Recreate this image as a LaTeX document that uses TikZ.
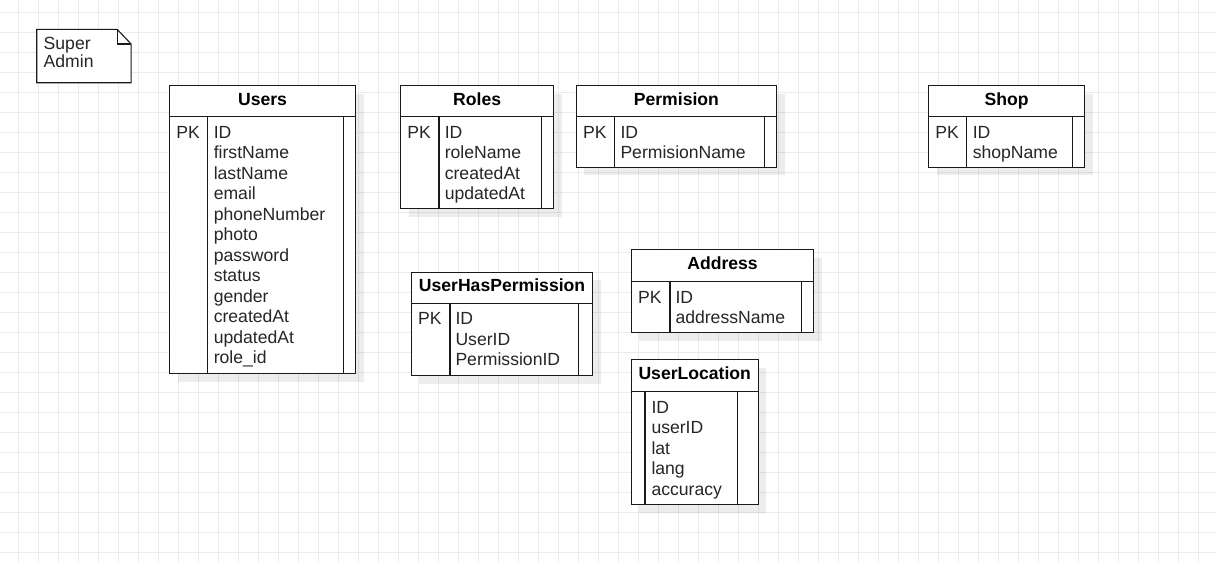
\documentclass[tikz,border=0pt]{standalone}
\usepackage{fontspec}
\setmainfont{Liberation Sans}
\usepackage{tikz}
\usetikzlibrary{positioning,shadows}
\newcommand{\fsz}{\fontsize{17.6pt}{20.5pt}\selectfont}
\tikzset{
  gridline/.style={draw=black!8, line width=1pt},
  rule/.style={draw=black!90, line width=1.1pt},
  tbl/.style={rule, fill=white, anchor=north west, inner sep=0pt,
    general shadow={shadow xshift=8pt, shadow yshift=-8pt, fill=black, draw=none, fill opacity=0.07}},
  title/.style={font=\bfseries\fsz, anchor=base, inner sep=0pt},
  key/.style={font=\fsz, text=black!85, anchor=north west, inner sep=0pt},
  field/.style={key, align=left},
  note/.style={anchor=north west, inner sep=0pt, minimum width=94pt, minimum height=53pt}
}

\begin{document}
\begin{tikzpicture}[x=1pt, y=1pt]
  \useasboundingbox (0,0) rectangle (1217,-562);
  \fill[white] (0,0) rectangle (1217,-562);
  \foreach \i in {0,...,59} \draw[gridline] (18.5+20*\i,0) -- ++(0,-562);
  \foreach \j in {0,...,27} \draw[gridline] (0,-12.5-20*\j) -- ++(1217,0);

  % note
  \node[note] (admin) at (36.7,-29.3) {};
  \draw[rule, fill=white] (admin.north west) -- ([xshift=-14pt]admin.north east)
    -- ([yshift=-14.7pt]admin.north east) -- (admin.south east) -- (admin.south west) -- cycle;
  \draw[rule] ([xshift=-14pt]admin.north east) -- ([shift={(-14,-14.7)}]admin.north east)
    -- ([yshift=-14.7pt]admin.north east);
  \node[field, font=\fontsize{17.6pt}{18.3pt}\selectfont] (admin-t) at ([shift={(6.8,-7.6)}]admin.north west) {Super\\Admin};

  % Users
  \node[tbl, minimum width=186pt, minimum height=288.3pt] (users) at (169,-85) {};
  \node[title] (users-t) at ([yshift=-20pt]users.north) {Users};
  \draw[rule] ([yshift=-31.7pt]users.north west) -- ([yshift=-31.7pt]users.north east);
  \draw[rule] ([shift={(38.7,-31.7)}]users.north west) -- ([xshift=38.7pt]users.south west);
  \draw[rule] ([shift={(-12.3,-31.7)}]users.north east) -- ([xshift=-12.3pt]users.south east);
  \node[key] (users-k) at ([shift={(7.2,-40.7)}]users.north west) {PK};
  \node[field] (users-f) at ([shift={(44.6,-40.7)}]users.north west)
    {ID\\firstName\\lastName\\email\\phoneNumber\\photo\\password\\status\\gender\\createdAt\\updatedAt\\role\_id};

  % Roles
  \node[tbl, minimum width=153.3pt, minimum height=123.3pt] (roles) at (400,-85) {};
  \node[title] (roles-t) at ([yshift=-20pt]roles.north) {Roles};
  \draw[rule] ([yshift=-31.7pt]roles.north west) -- ([yshift=-31.7pt]roles.north east);
  \draw[rule] ([shift={(39,-31.7)}]roles.north west) -- ([xshift=39pt]roles.south west);
  \draw[rule] ([shift={(-12.6,-31.7)}]roles.north east) -- ([xshift=-12.6pt]roles.south east);
  \node[key] (roles-k) at ([shift={(7.2,-40.7)}]roles.north west) {PK};
  \node[field] (roles-f) at ([shift={(44.6,-40.7)}]roles.north west) {ID\\roleName\\createdAt\\updatedAt};

  % Permision
  \node[tbl, minimum width=200.3pt, minimum height=81.7pt] (perm) at (575.7,-85) {};
  \node[title] (perm-t) at ([yshift=-20pt]perm.north) {Permision};
  \draw[rule] ([yshift=-31.7pt]perm.north west) -- ([yshift=-31.7pt]perm.north east);
  \draw[rule] ([shift={(38.6,-31.7)}]perm.north west) -- ([xshift=38.6pt]perm.south west);
  \draw[rule] ([shift={(-12.7,-31.7)}]perm.north east) -- ([xshift=-12.7pt]perm.south east);
  \node[key] (perm-k) at ([shift={(7.2,-40.7)}]perm.north west) {PK};
  \node[field] (perm-f) at ([shift={(44.6,-40.7)}]perm.north west) {ID\\PermisionName};

  % Shop
  \node[tbl, minimum width=156pt, minimum height=81.7pt] (shop) at (928,-85) {};
  \node[title] (shop-t) at ([yshift=-20pt]shop.north) {Shop};
  \draw[rule] ([yshift=-31.7pt]shop.north west) -- ([yshift=-31.7pt]shop.north east);
  \draw[rule] ([shift={(38.7,-31.7)}]shop.north west) -- ([xshift=38.7pt]shop.south west);
  \draw[rule] ([shift={(-12.3,-31.7)}]shop.north east) -- ([xshift=-12.3pt]shop.south east);
  \node[key] (shop-k) at ([shift={(7.2,-40.7)}]shop.north west) {PK};
  \node[field] (shop-f) at ([shift={(44.6,-40.7)}]shop.north west) {ID\\shopName};

  % UserHasPermission
  \node[tbl, minimum width=181.6pt, minimum height=103.3pt] (uhp) at (410.7,-271.7) {};
  \node[title] (uhp-t) at ([yshift=-20pt]uhp.north) {UserHasPermission};
  \draw[rule] ([yshift=-31.7pt]uhp.north west) -- ([yshift=-31.7pt]uhp.north east);
  \draw[rule] ([shift={(39.3,-31.7)}]uhp.north west) -- ([xshift=39.3pt]uhp.south west);
  \draw[rule] ([shift={(-14.6,-31.7)}]uhp.north east) -- ([xshift=-14.6pt]uhp.south east);
  \node[key] (uhp-k) at ([shift={(7.2,-40.7)}]uhp.north west) {PK};
  \node[field] (uhp-f) at ([shift={(44.6,-40.7)}]uhp.north west) {ID\\UserID\\PermissionID};

  % Address
  \node[tbl, minimum width=182.6pt, minimum height=82.7pt] (addr) at (630.7,-249.3) {};
  \node[title] (addr-t) at ([yshift=-20.4pt]addr.north) {Address};
  \draw[rule] ([yshift=-32.4pt]addr.north west) -- ([yshift=-32.4pt]addr.north east);
  \draw[rule] ([shift={(39.3,-32.4)}]addr.north west) -- ([xshift=39.3pt]addr.south west);
  \draw[rule] ([shift={(-12.6,-32.4)}]addr.north east) -- ([xshift=-12.6pt]addr.south east);
  \node[key] (addr-k) at ([shift={(7.2,-41.4)}]addr.north west) {PK};
  \node[field] (addr-f) at ([shift={(44.6,-41.4)}]addr.north west) {ID\\addressName};

  % UserLocation
  \node[tbl, minimum width=127pt, minimum height=145pt] (loc) at (630.7,-359.3) {};
  \node[title] (loc-t) at ([yshift=-20.4pt]loc.north) {UserLocation};
  \draw[rule] ([yshift=-32.4pt]loc.north west) -- ([yshift=-32.4pt]loc.north east);
  \draw[rule] ([shift={(14.3,-32.4)}]loc.north west) -- ([xshift=14.3pt]loc.south west);
  \draw[rule] ([shift={(-21.7,-32.4)}]loc.north east) -- ([xshift=-21.7pt]loc.south east);
  \node[field] (loc-f) at ([shift={(20.6,-41.4)}]loc.north west) {ID\\userID\\lat\\lang\\accuracy};
\end{tikzpicture}
\end{document}
